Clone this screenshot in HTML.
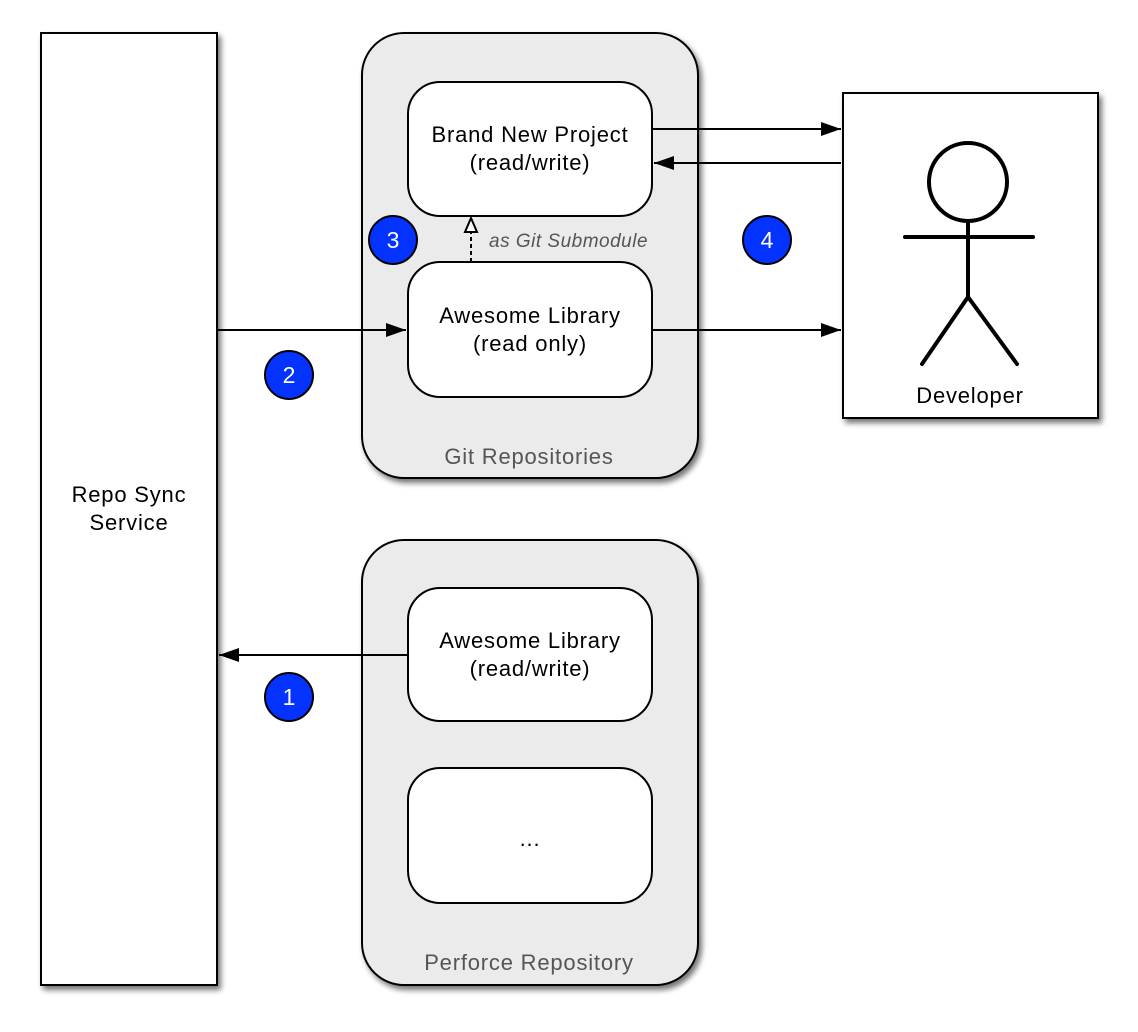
<!DOCTYPE html>
<html><head><meta charset="utf-8"><style>
html,body{margin:0;padding:0;background:#fff}
svg{display:block}
text{font-family:"Liberation Sans",Arial,sans-serif}
</style></head><body>
<svg width="1138" height="1032" viewBox="0 0 1138 1032" xmlns="http://www.w3.org/2000/svg">
<defs>
<filter id="sh" x="-10%" y="-10%" width="130%" height="130%">
<feGaussianBlur in="SourceAlpha" stdDeviation="3"/>
<feOffset dx="3" dy="4" result="b"/>
<feComponentTransfer><feFuncA type="linear" slope="0.55"/></feComponentTransfer>
<feMerge><feMergeNode/><feMergeNode in="SourceGraphic"/></feMerge>
</filter>
<marker id="ar" viewBox="0 0 20 14" refX="20" refY="7" markerWidth="20" markerHeight="14" markerUnits="userSpaceOnUse" orient="auto">
<path d="M0,0 L20,7 L0,14 z" fill="#000"/>
</marker>
</defs>
<g stroke="#000" stroke-width="2">
<rect x="41" y="33" width="176" height="952" fill="#fff" filter="url(#sh)"/>
<rect x="362" y="33" width="336" height="445" rx="42" fill="#ebebeb" filter="url(#sh)"/>
<rect x="362" y="540" width="336" height="445" rx="42" fill="#ebebeb" filter="url(#sh)"/>
<rect x="843" y="93" width="255" height="325" fill="#fff" filter="url(#sh)"/>
<rect x="408" y="82" width="244" height="134" rx="32" fill="#fff"/>
<rect x="408" y="262" width="244" height="135" rx="32" fill="#fff"/>
<rect x="408" y="588" width="244" height="133" rx="32" fill="#fff"/>
<rect x="408" y="768" width="244" height="135" rx="32" fill="#fff"/>
</g>
<g stroke="#000" stroke-width="2" fill="none">
<line x1="652" y1="129" x2="841" y2="129" marker-end="url(#ar)"/>
<line x1="841" y1="163" x2="654" y2="163" marker-end="url(#ar)"/>
<line x1="652" y1="330" x2="841" y2="330" marker-end="url(#ar)"/>
<line x1="217" y1="330" x2="406" y2="330" marker-end="url(#ar)"/>
<line x1="408" y1="655" x2="219" y2="655" marker-end="url(#ar)"/>
<line x1="471" y1="262" x2="471" y2="232" stroke-dasharray="4,3"/>
<path d="M465,232 L471,218 L477,232 z" fill="#fff"/>
</g>
<g stroke="#000" stroke-width="4" fill="none" stroke-linecap="round">
<circle cx="968" cy="182" r="39"/>
<line x1="905" y1="237" x2="1033" y2="237"/>
<line x1="968" y1="221" x2="968" y2="297"/>
<polyline points="922,364 968,297 1017,364"/>
</g>
<g fill="#0433ff" stroke="#000" stroke-width="2">
<circle cx="393" cy="240" r="24"/>
<circle cx="767" cy="240" r="24"/>
<circle cx="289" cy="375" r="24"/>
<circle cx="289" cy="697" r="24"/>
</g>
<g fill="#fff" font-size="23" text-anchor="middle">
<text x="393" y="248">3</text>
<text x="767" y="248">4</text>
<text x="289" y="383">2</text>
<text x="289" y="705">1</text>
</g>
<g fill="#000" font-size="22" text-anchor="middle" letter-spacing="0.8">
<text x="129" y="502">Repo Sync</text>
<text x="129" y="530">Service</text>
<text x="530" y="142">Brand New Project</text>
<text x="530" y="170">(read/write)</text>
<text x="530" y="323">Awesome Library</text>
<text x="530" y="351">(read only)</text>
<text x="530" y="648">Awesome Library</text>
<text x="530" y="676">(read/write)</text>
<text x="530" y="846">...</text>
<text x="970" y="403">Developer</text>
</g>
<g fill="#555" font-size="22" text-anchor="middle" letter-spacing="0.8">
<text x="529" y="464">Git Repositories</text>
<text x="529" y="970">Perforce Repository</text>
</g>
<text x="489" y="247" fill="#555" font-size="19" font-style="italic" letter-spacing="0.5">as Git Submodule</text>
</svg>
</body></html>
